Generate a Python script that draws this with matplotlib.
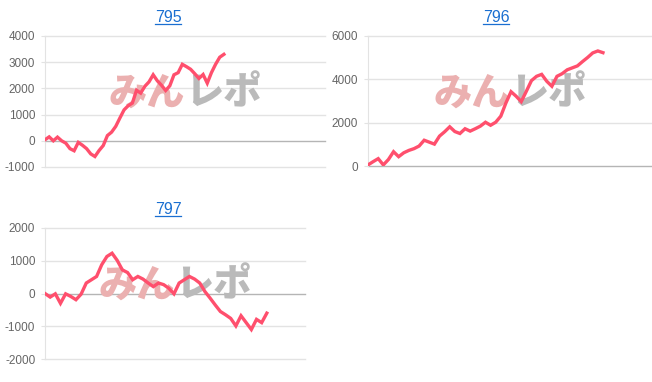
import numpy as np
import matplotlib
matplotlib.use("Agg")
import matplotlib.pyplot as plt
from matplotlib.lines import Line2D

# Values
titles = ["795", "796", "797"]

vals_795 = [40, 150, 0, 140, 0, -90, -300, -380, -60, -170, -300, -500, -600,
            -370, -180, 200, 330, 550, 870, 1180, 1340, 1440, 1930, 1820, 2080,
            2250, 2520, 2290, 2120, 1920, 2100, 2520, 2600, 2920, 2830, 2730,
            2560, 2380, 2530, 2200, 2600, 2920, 3190, 3300]

vals_796 = [50, 200, 340, 50, 300, 660, 430, 610, 720, 800, 920, 1190, 1100,
            1010, 1380, 1580, 1810, 1590, 1500, 1720, 1610, 1720, 1840, 2020,
            1880, 2020, 2300, 2910, 3430, 3220, 2970, 3450, 3940, 4140, 4230,
            3910, 3680, 4140, 4260, 4440, 4530, 4620, 4820, 5010, 5220, 5310, 5230]

vals_797 = [0, -110, -10, -300, -10, -90, -190, -20, 320, 420, 520, 880, 1130,
            1230, 1010, 720, 640, 420, 520, 440, 320, 210, 320, 270, 160, -10,
            320, 420, 520, 440, 320, 60, -140, -350, -550, -650, -760, -990,
            -680, -890, -1100, -790, -890, -600]

series = [vals_795, vals_796, vals_797]
yticks = [[-1000, 0, 1000, 2000, 3000, 4000],
          [0, 2000, 4000, 6000],
          [-2000, -1000, 0, 1000, 2000]]
# number of category slots on each x axis
slots = [67.3, 55.6, 50.4]

# layout (pixels in a 652x382 canvas): left, top, right, bottom of plot area
W, H = 652, 382
boxes = [(45, 36, 325, 167), (368, 36, 652, 166), (45, 228, 305, 359)]
title_pos = [(168, 17), (496, 17), (168, 209)]

line_color = "#ff4f6d"
grid_color = "#e3e3e3"
zero_color = "#b5b5b5"
link_color = "#1a6fd1"

fig = plt.figure(figsize=(W / 100, H / 100), dpi=100)

title_texts = []
for i in range(3):
    l, t, r, b = boxes[i]
    ax = fig.add_axes([l / W, 1 - b / H, (r - l) / W, (b - t) / H])
    vals = series[i]
    x = np.arange(len(vals))
    ax.plot(x, vals, color=line_color, lw=2.4, solid_joinstyle="miter", zorder=3)
    ax.set_xlim(0, slots[i])
    ax.set_ylim(yticks[i][0], yticks[i][-1])
    ax.set_yticks(yticks[i])
    ax.set_yticklabels([str(v) for v in yticks[i]], fontsize=8.5,
                       color="#666666", family="Liberation Sans")
    ax.set_xticks([])
    for s in ["top", "right", "bottom"]:
        ax.spines[s].set_visible(False)
    ax.spines["left"].set_color(grid_color)
    ax.tick_params(axis="y", length=3, color=grid_color, pad=4)
    for v in yticks[i]:
        c = zero_color if v == 0 else grid_color
        ax.axhline(v, color=c, lw=1, zorder=1, clip_on=False)
    ax.patch.set_alpha(0)

    # watermark
    ax.text(0.5, 0.56, "みん", transform=ax.transAxes, ha="right", va="center",
            fontsize=27.5, fontweight="heavy", color="#ebb0b0",
            family=["Noto Sans CJK JP", "DejaVu Sans"], zorder=2)
    ax.text(0.5, 0.56, "レポ", transform=ax.transAxes, ha="left", va="center",
            fontsize=27.5, fontweight="heavy", color="#bababa",
            family=["Noto Sans CJK JP", "DejaVu Sans"], zorder=2)

    tx, ty = title_pos[i]
    tt = fig.text(tx / W, 1 - ty / H, titles[i], ha="center", va="center",
                  fontsize=11.5, color=link_color, family="Liberation Sans")
    title_texts.append(tt)

# underline the title links
fig.canvas.draw()
renderer = fig.canvas.get_renderer()
for tt in title_texts:
    bb = tt.get_window_extent(renderer)
    y = bb.y0 + 1
    fig.add_artist(Line2D([bb.x0 / W, bb.x1 / W], [y / H, y / H],
                          transform=fig.transFigure, color=link_color, lw=0.9))

fig.savefig("out.png", dpi=100)
